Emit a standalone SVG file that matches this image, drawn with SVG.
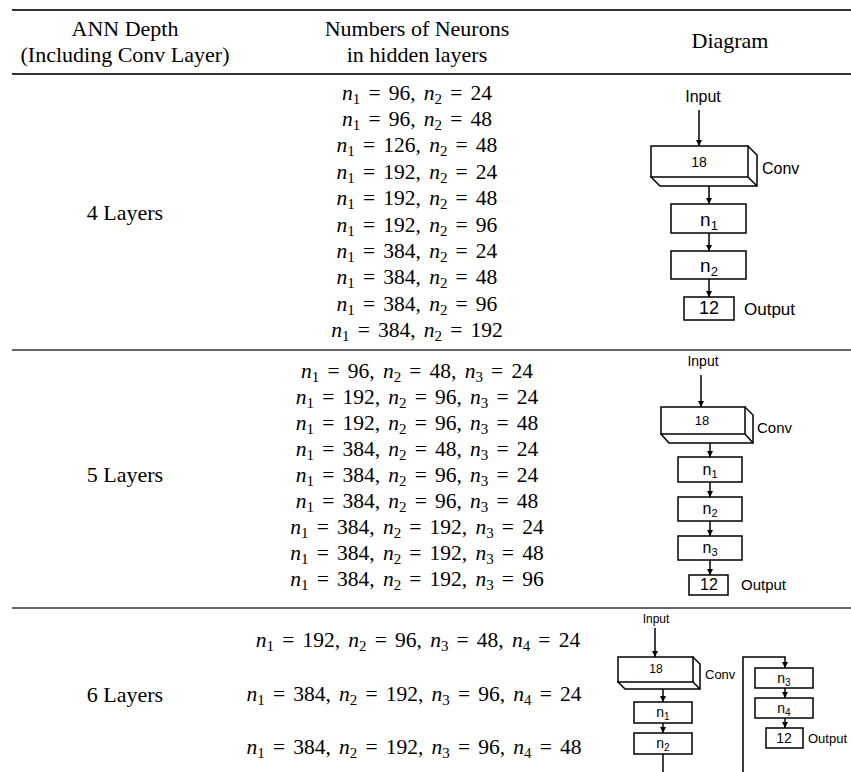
<svg xmlns="http://www.w3.org/2000/svg" width="851" height="772" viewBox="0 0 851 772">
  <style>
    .hd { font-family: "Liberation Serif", "Times New Roman", serif; font-size: 22px; fill: #000; text-anchor: middle; }
    .m { font-family: "Liberation Serif", "Times New Roman", serif; font-size: 21.5px; fill: #000; text-anchor: middle; word-spacing: 2.8px; }
    .i { font-style: italic; }
    .s { font-size: 15px; }
    .rule { stroke: #333; stroke-width: 2; }
    .sep { stroke: #666; stroke-width: 2; }
    .box { fill: #fff; stroke: #000; stroke-width: 1.5; }
    .ln { fill: none; stroke: #000; stroke-width: 1.5; }
    .lbl { font-family: "Liberation Sans", Arial, sans-serif; fill: #000; }
    .c { text-anchor: middle; }
  </style>
  <defs>
    <marker id="ah" viewBox="0 0 10 10" refX="10" refY="5" markerWidth="4" markerHeight="4" orient="auto" markerUnits="strokeWidth">
      <path d="M0,0 L10,5 L0,10 z" fill="#000"/>
    </marker>
  </defs>

  <rect width="851" height="772" fill="#fff"/>

  <!-- table rules -->
  <g id="rules">
    <line class="rule" x1="12" y1="10" x2="851" y2="10"/>
    <line class="rule" x1="12" y1="74" x2="851" y2="74"/>
    <line class="sep" x1="12" y1="350" x2="851" y2="350"/>
    <line class="sep" x1="12" y1="608" x2="851" y2="608"/>
  </g>

  <!-- header -->
  <g id="header">
    <text class="hd" x="125" y="36">ANN Depth</text>
    <text class="hd" x="125" y="62">(Including Conv Layer)</text>
    <text class="hd" x="417" y="36">Numbers of Neurons</text>
    <text class="hd" x="417" y="62">in hidden layers</text>
    <text class="hd" x="730" y="48">Diagram</text>
  </g>

  <!-- depth labels -->
  <g id="depths">
    <text class="hd" x="125" y="220">4 Layers</text>
    <text class="hd" x="125" y="482">5 Layers</text>
    <text class="hd" x="125" y="702">6 Layers</text>
  </g>

  <!-- neuron counts, 4 layers -->
  <g id="counts4">
    <text class="m" x="417" y="99.5"><tspan class="i">n</tspan><tspan class="s" dy="4">1</tspan><tspan dy="-4"> = 96, </tspan><tspan class="i">n</tspan><tspan class="s" dy="4">2</tspan><tspan dy="-4"> = 24</tspan></text>
    <text class="m" x="417" y="125.9"><tspan class="i">n</tspan><tspan class="s" dy="4">1</tspan><tspan dy="-4"> = 96, </tspan><tspan class="i">n</tspan><tspan class="s" dy="4">2</tspan><tspan dy="-4"> = 48</tspan></text>
    <text class="m" x="417" y="152.3"><tspan class="i">n</tspan><tspan class="s" dy="4">1</tspan><tspan dy="-4"> = 126, </tspan><tspan class="i">n</tspan><tspan class="s" dy="4">2</tspan><tspan dy="-4"> = 48</tspan></text>
    <text class="m" x="417" y="178.7"><tspan class="i">n</tspan><tspan class="s" dy="4">1</tspan><tspan dy="-4"> = 192, </tspan><tspan class="i">n</tspan><tspan class="s" dy="4">2</tspan><tspan dy="-4"> = 24</tspan></text>
    <text class="m" x="417" y="205.1"><tspan class="i">n</tspan><tspan class="s" dy="4">1</tspan><tspan dy="-4"> = 192, </tspan><tspan class="i">n</tspan><tspan class="s" dy="4">2</tspan><tspan dy="-4"> = 48</tspan></text>
    <text class="m" x="417" y="231.5"><tspan class="i">n</tspan><tspan class="s" dy="4">1</tspan><tspan dy="-4"> = 192, </tspan><tspan class="i">n</tspan><tspan class="s" dy="4">2</tspan><tspan dy="-4"> = 96</tspan></text>
    <text class="m" x="417" y="257.9"><tspan class="i">n</tspan><tspan class="s" dy="4">1</tspan><tspan dy="-4"> = 384, </tspan><tspan class="i">n</tspan><tspan class="s" dy="4">2</tspan><tspan dy="-4"> = 24</tspan></text>
    <text class="m" x="417" y="284.3"><tspan class="i">n</tspan><tspan class="s" dy="4">1</tspan><tspan dy="-4"> = 384, </tspan><tspan class="i">n</tspan><tspan class="s" dy="4">2</tspan><tspan dy="-4"> = 48</tspan></text>
    <text class="m" x="417" y="310.7"><tspan class="i">n</tspan><tspan class="s" dy="4">1</tspan><tspan dy="-4"> = 384, </tspan><tspan class="i">n</tspan><tspan class="s" dy="4">2</tspan><tspan dy="-4"> = 96</tspan></text>
    <text class="m" x="417" y="337.1"><tspan class="i">n</tspan><tspan class="s" dy="4">1</tspan><tspan dy="-4"> = 384, </tspan><tspan class="i">n</tspan><tspan class="s" dy="4">2</tspan><tspan dy="-4"> = 192</tspan></text>
  </g>

  <!-- neuron counts, 5 layers -->
  <g id="counts5">
    <text class="m" x="417" y="378"><tspan class="i">n</tspan><tspan class="s" dy="4">1</tspan><tspan dy="-4"> = 96, </tspan><tspan class="i">n</tspan><tspan class="s" dy="4">2</tspan><tspan dy="-4"> = 48, </tspan><tspan class="i">n</tspan><tspan class="s" dy="4">3</tspan><tspan dy="-4"> = 24</tspan></text>
    <text class="m" x="417" y="404"><tspan class="i">n</tspan><tspan class="s" dy="4">1</tspan><tspan dy="-4"> = 192, </tspan><tspan class="i">n</tspan><tspan class="s" dy="4">2</tspan><tspan dy="-4"> = 96, </tspan><tspan class="i">n</tspan><tspan class="s" dy="4">3</tspan><tspan dy="-4"> = 24</tspan></text>
    <text class="m" x="417" y="430"><tspan class="i">n</tspan><tspan class="s" dy="4">1</tspan><tspan dy="-4"> = 192, </tspan><tspan class="i">n</tspan><tspan class="s" dy="4">2</tspan><tspan dy="-4"> = 96, </tspan><tspan class="i">n</tspan><tspan class="s" dy="4">3</tspan><tspan dy="-4"> = 48</tspan></text>
    <text class="m" x="417" y="456"><tspan class="i">n</tspan><tspan class="s" dy="4">1</tspan><tspan dy="-4"> = 384, </tspan><tspan class="i">n</tspan><tspan class="s" dy="4">2</tspan><tspan dy="-4"> = 48, </tspan><tspan class="i">n</tspan><tspan class="s" dy="4">3</tspan><tspan dy="-4"> = 24</tspan></text>
    <text class="m" x="417" y="482"><tspan class="i">n</tspan><tspan class="s" dy="4">1</tspan><tspan dy="-4"> = 384, </tspan><tspan class="i">n</tspan><tspan class="s" dy="4">2</tspan><tspan dy="-4"> = 96, </tspan><tspan class="i">n</tspan><tspan class="s" dy="4">3</tspan><tspan dy="-4"> = 24</tspan></text>
    <text class="m" x="417" y="508"><tspan class="i">n</tspan><tspan class="s" dy="4">1</tspan><tspan dy="-4"> = 384, </tspan><tspan class="i">n</tspan><tspan class="s" dy="4">2</tspan><tspan dy="-4"> = 96, </tspan><tspan class="i">n</tspan><tspan class="s" dy="4">3</tspan><tspan dy="-4"> = 48</tspan></text>
    <text class="m" x="417" y="534"><tspan class="i">n</tspan><tspan class="s" dy="4">1</tspan><tspan dy="-4"> = 384, </tspan><tspan class="i">n</tspan><tspan class="s" dy="4">2</tspan><tspan dy="-4"> = 192, </tspan><tspan class="i">n</tspan><tspan class="s" dy="4">3</tspan><tspan dy="-4"> = 24</tspan></text>
    <text class="m" x="417" y="560"><tspan class="i">n</tspan><tspan class="s" dy="4">1</tspan><tspan dy="-4"> = 384, </tspan><tspan class="i">n</tspan><tspan class="s" dy="4">2</tspan><tspan dy="-4"> = 192, </tspan><tspan class="i">n</tspan><tspan class="s" dy="4">3</tspan><tspan dy="-4"> = 48</tspan></text>
    <text class="m" x="417" y="586"><tspan class="i">n</tspan><tspan class="s" dy="4">1</tspan><tspan dy="-4"> = 384, </tspan><tspan class="i">n</tspan><tspan class="s" dy="4">2</tspan><tspan dy="-4"> = 192, </tspan><tspan class="i">n</tspan><tspan class="s" dy="4">3</tspan><tspan dy="-4"> = 96</tspan></text>
  </g>

  <!-- neuron counts, 6 layers -->
  <g id="counts6">
    <text class="m" x="418" y="647"><tspan class="i">n</tspan><tspan class="s" dy="4">1</tspan><tspan dy="-4"> = 192, </tspan><tspan class="i">n</tspan><tspan class="s" dy="4">2</tspan><tspan dy="-4"> = 96, </tspan><tspan class="i">n</tspan><tspan class="s" dy="4">3</tspan><tspan dy="-4"> = 48, </tspan><tspan class="i">n</tspan><tspan class="s" dy="4">4</tspan><tspan dy="-4"> = 24</tspan></text>
    <text class="m" x="414" y="700.5"><tspan class="i">n</tspan><tspan class="s" dy="4">1</tspan><tspan dy="-4"> = 384, </tspan><tspan class="i">n</tspan><tspan class="s" dy="4">2</tspan><tspan dy="-4"> = 192, </tspan><tspan class="i">n</tspan><tspan class="s" dy="4">3</tspan><tspan dy="-4"> = 96, </tspan><tspan class="i">n</tspan><tspan class="s" dy="4">4</tspan><tspan dy="-4"> = 24</tspan></text>
    <text class="m" x="414" y="754"><tspan class="i">n</tspan><tspan class="s" dy="4">1</tspan><tspan dy="-4"> = 384, </tspan><tspan class="i">n</tspan><tspan class="s" dy="4">2</tspan><tspan dy="-4"> = 192, </tspan><tspan class="i">n</tspan><tspan class="s" dy="4">3</tspan><tspan dy="-4"> = 96, </tspan><tspan class="i">n</tspan><tspan class="s" dy="4">4</tspan><tspan dy="-4"> = 48</tspan></text>
  </g>

  <!-- ===== network diagram: 4 layers ===== -->
  <g id="d4-input"><text class="lbl c" x="703" y="102" font-size="16">Input</text></g>
  <g id="d4-conv">
    <path class="box" d="M651,177 L660,186 L757,186 L757,155 L748,146 Z"/>
    <rect class="box" x="651" y="146" width="97" height="31"/>
    <line class="ln" x1="748" y1="177" x2="757" y2="186"/>
    <text class="lbl c" x="699" y="167" font-size="14">18</text>
    <text class="lbl" x="762" y="174" font-size="16">Conv</text>
  </g>
  <g id="d4-n1">
    <rect class="box" x="671" y="204" width="75" height="29"/>
    <text class="lbl c" x="709" y="226" font-size="19">n<tspan font-size="13" dy="4">1</tspan></text>
  </g>
  <g id="d4-n2">
    <rect class="box" x="671" y="251" width="75" height="28"/>
    <text class="lbl c" x="709" y="272" font-size="19">n<tspan font-size="13" dy="4">2</tspan></text>
  </g>
  <g id="d4-out">
    <rect class="box" x="684" y="297" width="50" height="23"/>
    <text class="lbl c" x="709" y="314" font-size="18">12</text>
    <text class="lbl" x="744" y="315" font-size="17">Output</text>
  </g>

  <!-- ===== network diagram: 5 layers ===== -->
  <g id="d5-input"><text class="lbl c" x="703" y="366" font-size="14">Input</text></g>
  <g id="d5-conv">
    <path class="box" d="M661,434 L669,443 L753,443 L753,415 L745,407 Z"/>
    <rect class="box" x="661" y="407" width="84" height="27"/>
    <line class="ln" x1="745" y1="434" x2="753" y2="443"/>
    <text class="lbl c" x="702" y="425" font-size="13">18</text>
    <text class="lbl" x="757" y="433" font-size="15">Conv</text>
  </g>
  <g id="d5-n1">
    <rect class="box" x="678" y="457" width="64" height="25"/>
    <text class="lbl c" x="710" y="475" font-size="16">n<tspan font-size="11" dy="3">1</tspan></text>
  </g>
  <g id="d5-n2">
    <rect class="box" x="678" y="497" width="64" height="24"/>
    <text class="lbl c" x="710" y="514" font-size="16">n<tspan font-size="11" dy="3">2</tspan></text>
  </g>
  <g id="d5-n3">
    <rect class="box" x="678" y="536" width="64" height="24"/>
    <text class="lbl c" x="710" y="553" font-size="16">n<tspan font-size="11" dy="3">3</tspan></text>
  </g>
  <g id="d5-out">
    <rect class="box" x="689" y="575" width="39" height="20"/>
    <text class="lbl c" x="709" y="590" font-size="16">12</text>
    <text class="lbl" x="741" y="590" font-size="15">Output</text>
  </g>

  <!-- ===== network diagram: 6 layers ===== -->
  <g id="d6-input"><text class="lbl c" x="656" y="623" font-size="12">Input</text></g>
  <g id="d6-conv">
    <path class="box" d="M618,682 L625,689 L700,689 L700,664 L693,657 Z"/>
    <rect class="box" x="618" y="657" width="75" height="25"/>
    <line class="ln" x1="693" y1="682" x2="700" y2="689"/>
    <text class="lbl c" x="656" y="673" font-size="12">18</text>
    <text class="lbl" x="705" y="679" font-size="13">Conv</text>
  </g>
  <g id="d6-n1">
    <rect class="box" x="634" y="702" width="58" height="21"/>
    <text class="lbl c" x="663" y="717" font-size="14">n<tspan font-size="10" dy="3">1</tspan></text>
  </g>
  <g id="d6-n2">
    <rect class="box" x="634" y="733" width="58" height="21"/>
    <text class="lbl c" x="663" y="748" font-size="14">n<tspan font-size="10" dy="3">2</tspan></text>
  </g>
  <g id="d6-n3">
    <rect class="box" x="755" y="668" width="58" height="20"/>
    <text class="lbl c" x="784" y="683" font-size="14">n<tspan font-size="10" dy="3">3</tspan></text>
  </g>
  <g id="d6-n4">
    <rect class="box" x="755" y="698" width="58" height="20"/>
    <text class="lbl c" x="784" y="713" font-size="14">n<tspan font-size="10" dy="3">4</tspan></text>
  </g>
  <g id="d6-out">
    <rect class="box" x="766" y="728" width="37" height="20"/>
    <text class="lbl c" x="784" y="743" font-size="14">12</text>
    <text class="lbl" x="808" y="743" font-size="13">Output</text>
  </g>

  <!-- connectors -->
  <g id="connectors" class="ln">
    <line class="ln" x1="699" y1="110" x2="699" y2="146" marker-end="url(#ah)"/>
    <line class="ln" x1="709" y1="186" x2="709" y2="204" marker-end="url(#ah)"/>
    <line class="ln" x1="709" y1="233" x2="709" y2="251" marker-end="url(#ah)"/>
    <line class="ln" x1="709" y1="279" x2="709" y2="297" marker-end="url(#ah)"/>

    <line class="ln" x1="701" y1="375" x2="701" y2="407" marker-end="url(#ah)"/>
    <line class="ln" x1="710" y1="443" x2="710" y2="457" marker-end="url(#ah)"/>
    <line class="ln" x1="710" y1="482" x2="710" y2="497" marker-end="url(#ah)"/>
    <line class="ln" x1="710" y1="521" x2="710" y2="536" marker-end="url(#ah)"/>
    <line class="ln" x1="710" y1="560" x2="710" y2="575" marker-end="url(#ah)"/>

    <line class="ln" x1="655" y1="628" x2="655" y2="657" marker-end="url(#ah)"/>
    <line class="ln" x1="663" y1="689" x2="663" y2="702" marker-end="url(#ah)"/>
    <line class="ln" x1="663" y1="723" x2="663" y2="733" marker-end="url(#ah)"/>
    <line class="ln" x1="663" y1="754" x2="663" y2="772"/>
    <polyline class="ln" points="743,772 743,657 785,657 785,668" marker-end="url(#ah)"/>
    <line class="ln" x1="785" y1="688" x2="785" y2="698" marker-end="url(#ah)"/>
    <line class="ln" x1="785" y1="718" x2="785" y2="728" marker-end="url(#ah)"/>
  </g>
</svg>
